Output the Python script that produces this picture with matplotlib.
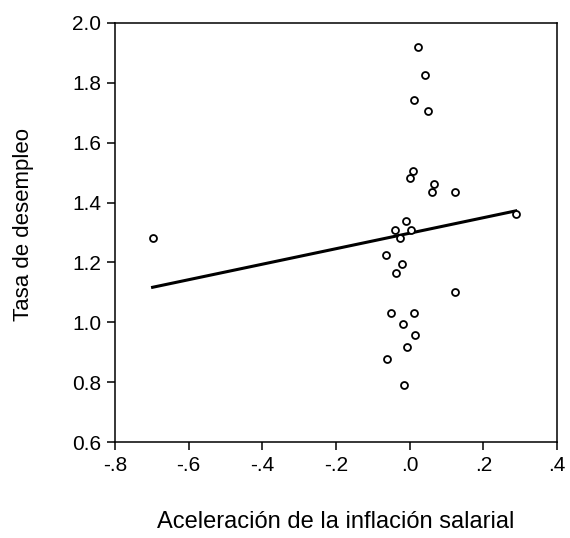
import matplotlib
matplotlib.use("Agg")
import matplotlib.pyplot as plt
import numpy as np

# aceleración de la inflación salarial (x) vs tasa de desempleo (y)
accel = [-0.698, 0.022, 0.043, 0.012, 0.050, 0.008, 0.000, 0.067, 0.060, 0.123,
         0.288, -0.010, -0.041, 0.004, -0.027, -0.065, -0.021, -0.038, 0.123,
         -0.050, 0.011, -0.017, 0.015, -0.008, -0.062, -0.014]
desempleo = [1.283, 1.918, 1.826, 1.742, 1.706, 1.505, 1.483, 1.461, 1.435, 1.435,
             1.363, 1.337, 1.309, 1.309, 1.282, 1.226, 1.196, 1.165, 1.100,
             1.030, 1.030, 0.994, 0.958, 0.919, 0.877, 0.791]

xticks = [-0.8, -0.6, -0.4, -0.2, 0.0, 0.2, 0.4]
xticklabels = ['-.8', '-.6', '-.4', '-.2', '.0', '.2', '.4']
yticks = [0.6, 0.8, 1.0, 1.2, 1.4, 1.6, 1.8, 2.0]

plt.rcParams['font.family'] = ['Liberation Sans', 'DejaVu Sans']

fig = plt.figure(figsize=(5.7, 5.38), dpi=100)
ax = fig.add_axes([0.2018, 0.1779, 0.7753, 0.7799])

x = np.array(accel)
y = np.array(desempleo)
b, a = np.polyfit(x, y, 1)
xl = np.array([x.min(), x.max()])
ax.plot(xl, a + b * xl, color='black', lw=2.2, zorder=2)
ax.plot(x, y, 'o', mfc='white', mec='black', mew=1.3, ms=5, ls='none', zorder=3)

ax.set_xlim(-0.8, 0.4)
ax.set_ylim(0.6, 2.0)
ax.set_xticks(xticks)
ax.set_xticklabels(xticklabels)
ax.set_yticks(yticks)
ax.set_yticklabels(['%.1f' % v for v in yticks])
ax.tick_params(direction='out', length=6, width=1.1, labelsize=15, pad=4,
               top=False, right=False)
for s in ax.spines.values():
    s.set_linewidth(1.1)

ax.set_xlabel('Aceleración de la inflación salarial', fontsize=17, va='center')
ax.xaxis.set_label_coords(0.5, -0.19)
ax.set_ylabel('Tasa de desempleo', fontsize=16, va='center')
ax.yaxis.set_label_coords(-0.206, 0.52)

fig.savefig('out.png', dpi=100)
